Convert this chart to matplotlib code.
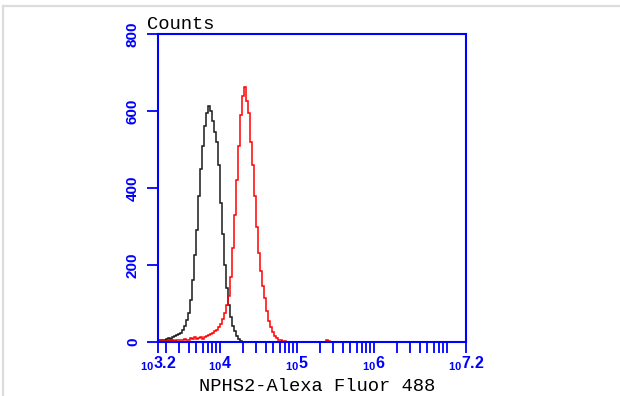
import numpy as np
import matplotlib
matplotlib.use('Agg')
import matplotlib.pyplot as plt
from matplotlib.lines import Line2D
from matplotlib.ticker import FixedLocator, NullFormatter

plt.rcParams['mathtext.fontset'] = 'custom'
plt.rcParams['mathtext.bf'] = 'Liberation Sans:bold'
plt.rcParams['mathtext.rm'] = 'Liberation Sans'

# histogram data, log10 bins starting at 10^3.2
bin_start = 3.2
bin_width = 0.026
black_counts = [5, 4, 6, 5, 8, 10, 9, 13, 15, 18, 20, 24, 30, 42, 58, 75, 110,
                160, 225, 290, 380, 450, 510, 560, 595, 613, 600, 575, 545,
                520, 460, 360, 280, 200, 140, 95, 65, 42, 28, 16, 8, 3, 1]
red_counts = [3, 2, 3, 2, 3, 4, 3, 4, 3, 5, 4, 6, 5, 8, 4, 6, 10, 7, 12, 8,
              10, 12, 9, 13, 15, 18, 20, 24, 28, 32, 40, 48, 60, 75, 95, 120,
              170, 245, 330, 420, 510, 590, 640, 663, 625, 595, 520, 460, 380,
              300, 230, 185, 145, 115, 80, 55, 38, 25, 15, 10, 6, 4, 3, 2, 1,
              0, 0, 0, 0, 0, 0, 0, 0, 0, 0, 0, 0, 0, 0, 0, 0, 0, 0, 0, 4, 3]

major_exp = [3.2, 4, 5, 6, 7.2]
major_labels = ['3.2', '4', '5', '6', '7.2']
y_ticks = [0, 200, 400, 600, 800]

blue = '#0000ff'

fig = plt.figure(figsize=(6.2, 3.96), dpi=100)
ax = fig.add_axes([158/620, 1-342/396, 308/620, 308/396])

def edges(n):
    return 10 ** (bin_start + bin_width * np.arange(n + 1))

ax.stairs(black_counts, edges(len(black_counts)), color='#1a1a1a', lw=1.1, zorder=3)
ax.stairs(red_counts, edges(len(red_counts)), color='#ff0000', lw=1.1, zorder=3)

ax.set_xscale('log')
ax.set_xlim(10 ** 3.2, 10 ** 7.2)
ax.set_ylim(0, 800)

for s in ax.spines.values():
    s.set_color(blue)
    s.set_linewidth(1.5)
    s.set_zorder(4)

majors = [10 ** e for e in major_exp]
ax.xaxis.set_major_locator(FixedLocator(majors))
ax.set_xticklabels([r'$_{\mathbf{10}}\mathbf{%s}$' % l for l in major_labels])
minors = [k * 10 ** n for n in range(3, 8) for k in range(2, 10)
          if 10 ** 3.2 < k * 10 ** n < 10 ** 7.2]
ax.xaxis.set_minor_locator(FixedLocator(minors))
ax.xaxis.set_minor_formatter(NullFormatter())
ax.tick_params(axis='x', which='both', direction='out', length=8, width=1.3,
               color=blue, labelcolor=blue, labelsize=11.5, pad=1)

ax.set_yticks(y_ticks)
ax.set_yticklabels([str(v) for v in y_ticks], rotation=90, va='center',
                   fontfamily='Liberation Sans', fontweight='bold')
ax.tick_params(axis='y', which='both', direction='out', length=8, width=1.3,
               color=blue, labelcolor=blue, labelsize=11, pad=5)

fig.text(147/620, 1-29/396, 'Counts', fontfamily='Liberation Mono',
         fontsize=13.5, color='black', va='baseline', ha='left')
fig.text(317/620, 1-391/396, 'NPHS2-Alexa Fluor 488', fontfamily='Liberation Mono',
         fontsize=13.5, color='black', va='baseline', ha='center')

# light grey frame around the picture
fig.add_artist(Line2D([3/620, 3/620], [0, 1-6/396], transform=fig.transFigure,
                      color='#dcdcdc', lw=1.6))
fig.add_artist(Line2D([3/620, 1], [1-6/396, 1-6/396], transform=fig.transFigure,
                      color='#dcdcdc', lw=1.6))

fig.savefig('out.png', dpi=100)
